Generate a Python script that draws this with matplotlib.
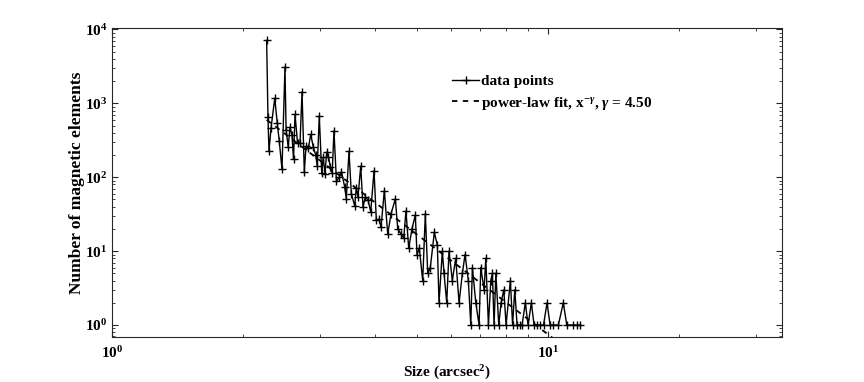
import matplotlib.pyplot as plt

plt.rcParams['font.family'] = ['Liberation Serif', 'DejaVu Serif']
plt.rcParams['font.weight'] = 'bold'
plt.rcParams['mathtext.fontset'] = 'custom'
plt.rcParams['mathtext.rm'] = 'Liberation Serif:bold'
plt.rcParams['mathtext.bf'] = 'Liberation Serif:bold'
plt.rcParams['mathtext.it'] = 'Liberation Serif:italic'

# size bins (arcsec^2) and counts
size = [2.263, 2.279, 2.291, 2.316, 2.362, 2.394, 2.419, 2.454, 2.493, 2.508,
        2.536, 2.560, 2.587, 2.608, 2.629, 2.664, 2.699, 2.728, 2.761, 2.786,
        2.820, 2.856, 2.895, 2.932, 2.957, 2.988, 3.027, 3.052, 3.080, 3.107,
        3.137, 3.167, 3.199, 3.229, 3.272, 3.321, 3.360, 3.417, 3.446, 3.496,
        3.539, 3.603, 3.633, 3.666, 3.719, 3.764, 3.811, 3.866, 3.921, 3.990,
        4.039, 4.097, 4.140, 4.213, 4.289, 4.365, 4.465, 4.522, 4.601, 4.667,
        4.723, 4.791, 4.876, 4.962, 5.006, 5.067, 5.159, 5.231, 5.298, 5.371,
        5.486, 5.574, 5.623, 5.723, 5.774, 5.857, 5.928, 6.033, 6.142, 6.251,
        6.361, 6.452, 6.566, 6.650, 6.707, 6.829, 6.948, 7.011, 7.135, 7.199,
        7.299, 7.392, 7.455, 7.520, 7.592, 7.709, 7.804, 7.916, 8.013, 8.197,
        8.293, 8.389, 8.492, 8.604, 8.719, 8.871, 8.999, 9.158, 9.289, 9.437,
        9.587, 9.765, 9.947, 10.11, 10.28, 10.56, 10.84, 11.04, 11.43, 11.63,
        11.84]
count = [7100, 650, 224, 460, 1170, 535, 310, 128, 3100, 435,
         257, 475, 370, 175, 710, 290, 290, 1420, 118, 262,
         246, 380, 257, 200, 141, 680, 113, 185, 110, 219,
         188, 138, 113, 425, 88, 100, 118, 74, 51, 224,
         60, 41, 72, 54, 141, 40, 54, 49, 34, 123,
         26, 27, 21, 66, 17, 32, 51, 20, 17, 15,
         35, 11, 20, 31, 9, 11, 4, 32, 5, 6,
         18, 12, 2, 10, 5, 2, 10, 4, 8, 2,
         5, 9, 4, 1, 6, 2, 1, 6, 3, 8,
         1, 4, 5, 1, 5, 1, 2, 3, 1, 4,
         1, 3, 1, 1, 1, 2, 1, 2, 1, 1,
         1, 1, 2, 1, 1, 1, 2, 1, 1, 1,
         1]

gamma = 4.50
amp = 23600.0
fit = [amp * s ** (-gamma) for s in size]

fig = plt.figure(figsize=(8.64, 3.82), dpi=100)
ax = fig.add_axes([0.1296, 0.118, 0.7755, 0.809])

ax.loglog(size, count, color='k', lw=1.0, marker='+', ms=6, mew=1.0,
          label='data points')
ax.loglog(size, fit, color='k', lw=1.3, linestyle=(0, (3, 3)),
          label=r'power-law fit, x$^{\mathregular{-}\it{\gamma}}$, $\it{\gamma}$ = 4.50')

ax.set_xlim(1, 34.4)
ax.set_ylim(0.69, 1.05e4)
ax.set_xlabel(r'Size (arcsec$^{2}$)', fontsize=11, fontweight='bold', labelpad=2)
ax.set_ylabel('Number of magnetic elements', fontsize=12.5, fontweight='bold', labelpad=0)

for sp in ax.spines.values():
    sp.set_color('#262626')
    sp.set_linewidth(0.8)
ax.tick_params(which='both', direction='in', top=True, right=True,
               colors='#262626', labelcolor='k', labelsize=11)
ax.tick_params(axis='x', which='major', pad=6)
ax.tick_params(which='major', length=4)
ax.tick_params(which='minor', length=2.5)

ax.legend(loc='upper left', bbox_to_anchor=(0.498, 0.87), frameon=False,
          fontsize=11, handlelength=1.8, handletextpad=0.1, labelspacing=0.45,
          borderaxespad=0)

fig.savefig('out.png', dpi=100)
